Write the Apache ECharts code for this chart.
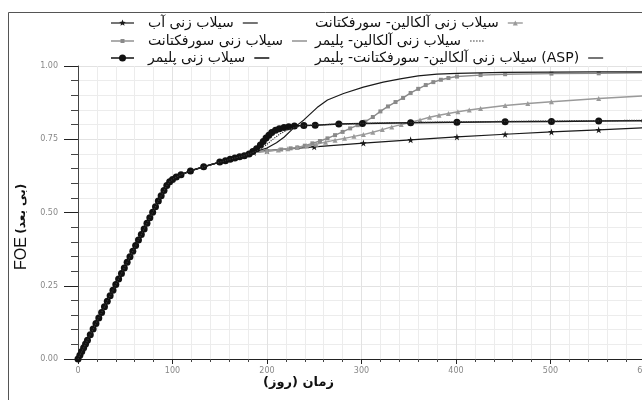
<!DOCTYPE html>
<html>
<head>
<meta charset="utf-8">
<script src="https://cdn.jsdelivr.net/npm/echarts@6/dist/echarts.min.js"></script>
<style>
  html, body { margin: 0; padding: 0; background: #fff; }
  #chart { width: 642px; height: 400px; }
</style>
</head>
<body>
<div id="chart"></div>
<script>
// Series names (legend)
const seriesNames = [
  'سیلاب زنی آب',
  'سیلاب زنی سورفکتانت',
  'سیلاب زنی پلیمر',
  'سیلاب زنی آلکالین- سورفکتانت',
  'سیلاب زنی آلکالین- پلیمر',
  'سیلاب زنی آلکالین- سورفکتانت- پلیمر (ASP)'
];

// Shared early-time recovery (days, FOE) common to every scenario
const baseDays = [0, 2, 4, 6, 8, 10, 13, 16, 19, 22, 25, 28, 31, 34, 37, 40, 43, 46, 49, 52, 55, 58, 61, 64, 67, 70, 73, 76, 79, 82, 85, 88, 91, 94, 97,
  100, 104, 109, 119, 133, 150, 156, 161, 166, 171, 176, 181];
const baseFoe = [0, 0.013, 0.026, 0.038, 0.051, 0.064, 0.083, 0.102, 0.121, 0.140, 0.159, 0.178, 0.197, 0.216, 0.235, 0.254, 0.273, 0.292, 0.311, 0.330, 0.349, 0.368, 0.387, 0.406, 0.425, 0.444, 0.463, 0.482, 0.501, 0.520, 0.539, 0.557, 0.575, 0.592, 0.605,
  0.613, 0.621, 0.629, 0.642, 0.656, 0.672, 0.677, 0.682, 0.686, 0.690, 0.694, 0.700];

// Water flooding
const waterDays = [186, 200, 250, 302, 352, 401, 452, 501, 551, 600];
const waterFoe = [0.705, 0.711, 0.724, 0.737, 0.748, 0.758, 0.767, 0.775, 0.782, 0.789];

// Surfactant flooding
const surfDays = [186, 200, 215, 225, 232, 240, 248, 256, 264, 272, 280, 288, 296, 304, 312, 320, 328, 336, 344, 352, 360, 368, 376, 384, 392, 401, 426, 452, 501, 551, 600];
const surfFoe = [0.705, 0.710, 0.715, 0.719, 0.722, 0.728, 0.736, 0.744, 0.753, 0.764, 0.775, 0.787, 0.798, 0.810, 0.826, 0.845, 0.862, 0.877, 0.891, 0.908, 0.922, 0.935, 0.945, 0.953, 0.959, 0.964, 0.969, 0.972, 0.974, 0.975, 0.977];

// Polymer flooding
const polyDays = [185, 189, 193, 196, 199, 202, 205, 209, 213, 218, 223, 229, 239, 251, 276, 301, 352, 401, 452, 501, 551, 600];
const polyFoe = [0.708, 0.718, 0.730, 0.742, 0.754, 0.764, 0.773, 0.781, 0.786, 0.790, 0.793, 0.795, 0.797, 0.798, 0.802, 0.804, 0.806, 0.808, 0.810, 0.811, 0.812, 0.813];

// Alkaline-surfactant flooding
const asDays = [186, 200, 212, 222, 232, 242, 252, 262, 272, 282, 292, 302, 312, 322, 332, 342, 352, 362, 372, 382, 392, 402, 414, 426, 452, 476, 501, 551, 600];
const asFoe = [0.705, 0.709, 0.713, 0.718, 0.722, 0.727, 0.733, 0.740, 0.747, 0.753, 0.760, 0.766, 0.774, 0.783, 0.792, 0.800, 0.808, 0.816, 0.825, 0.832, 0.838, 0.844, 0.850, 0.855, 0.865, 0.872, 0.878, 0.889, 0.898];

// Alkaline-polymer flooding
const apDays = [186, 193, 200, 207, 214, 221, 228, 235, 250, 300, 350, 400, 450, 500, 550, 600];
const apFoe = [0.706, 0.716, 0.733, 0.752, 0.769, 0.781, 0.789, 0.795, 0.799, 0.804, 0.807, 0.809, 0.811, 0.812, 0.813, 0.815];

// ASP flooding
const aspDays = [186, 200, 210, 218, 228, 239, 253, 264, 281, 302, 323, 341, 360, 380, 401, 450, 500, 550, 600];
const aspFoe = [0.706, 0.720, 0.738, 0.757, 0.788, 0.816, 0.858, 0.884, 0.906, 0.928, 0.945, 0.956, 0.966, 0.972, 0.975, 0.978, 0.979, 0.980, 0.980];

// Axis titles
const xTitle = 'زمان (روز)';
const yTitleLatin = 'FOE';
const yTitleFa = '(بی بعد)';

// Line / marker styles per scenario, in legend order
const styles = [
  { color: '#1a1a1a', width: 1.2, dash: 'solid', marker: 'star', size: 7 },
  { color: '#8a8a8a', width: 1.4, dash: 'solid', marker: 'rect', size: 4 },
  { color: '#111111', width: 1.5, dash: 'solid', marker: 'circle', size: 7 },
  { color: '#9a9a9a', width: 1.4, dash: 'solid', marker: 'triangle', size: 5 },
  { color: '#333333', width: 1.2, dash: 'dotted', marker: 'none', size: 0 },
  { color: '#1a1a1a', width: 1.2, dash: 'solid', marker: 'none', size: 0 }
];

const starPath = 'path://M50,0 L61,35 L98,35 L68,57 L79,91 L50,70 L21,91 L32,57 L2,35 L39,35 Z';
const symbolOf = m => (m === 'star' ? starPath : m);

// Early points carry no marker except on the polymer curve, which shows every step.
function buildData(days, foe, baseMarkers) {
  const out = [];
  baseDays.forEach((d, i) => {
    out.push(baseMarkers ? [d, baseFoe[i]] : { value: [d, baseFoe[i]], symbol: 'none' });
  });
  days.forEach((d, i) => out.push([d, foe[i]]));
  return out;
}

const faFont = '"DejaVu Sans", "Noto Sans", sans-serif';
const legendFont = '14px ' + faFont;

// Measure label widths so each trailing key sits right after its text
const measureCtx = document.createElement('canvas').getContext('2d');
measureCtx.font = legendFont;
const textWidth = t => measureCtx.measureText(t).width;

function markerShape(st, cx, cy) {
  const s = st.size;
  const style = { fill: st.color };
  if (st.marker === 'circle') return { type: 'circle', shape: { cx, cy, r: s / 2 }, style };
  if (st.marker === 'rect') return { type: 'rect', shape: { x: cx - s / 2, y: cy - s / 2, width: s, height: s }, style };
  if (st.marker === 'triangle') return { type: 'polygon', shape: { points: [[cx, cy - s / 2], [cx + s / 2, cy + s / 2], [cx - s / 2, cy + s / 2]] }, style };
  if (st.marker === 'star') {
    const pts = [];
    for (let k = 0; k < 10; k++) {
      const r = k % 2 === 0 ? s / 2 : s / 4.6;
      const a = -Math.PI / 2 + k * Math.PI / 5;
      pts.push([cx + r * Math.cos(a), cy + r * Math.sin(a)]);
    }
    return { type: 'polygon', shape: { points: pts }, style };
  }
  return null;
}

function legendKey(st, x0, x1, y, withMarker) {
  const out = [{
    type: 'line', silent: true,
    shape: { x1: x0, y1: y, x2: x1, y2: y },
    style: { stroke: st.color, lineWidth: st.width, lineDash: st.dash === 'dotted' ? [1.5, 1.5] : null }
  }];
  if (withMarker && st.marker !== 'none') {
    const m = markerShape(st, (x0 + x1) / 2, y);
    if (m) out.push(m);
  }
  return out;
}

// Legend: two columns of three rows
const legendRowY = [23, 41, 58];
const legendCols = [
  { textX: 148, leftKey: [111, 134], items: [0, 1, 2] },
  { textX: 315, leftKey: null, items: [3, 4, 5] }
];
const legendGraphics = [];
legendCols.forEach(col => {
  col.items.forEach((si, r) => {
    const y = legendRowY[r];
    const st = styles[si];
    if (col.leftKey) legendGraphics.push(...legendKey(st, col.leftKey[0], col.leftKey[1], y, true));
    legendGraphics.push({
      type: 'text', silent: true, x: col.textX, y: y,
      style: { text: seriesNames[si], font: legendFont, fill: '#111', textVerticalAlign: 'middle', textAlign: 'left' }
    });
    const tEnd = col.textX + textWidth(seriesNames[si]) + 9;
    legendGraphics.push(...legendKey(st, tEnd, tEnd + 15, y, !col.leftKey));
  });
});

const chart = echarts.init(document.getElementById('chart'), null, { renderer: 'canvas' });

chart.setOption({
  animation: false,
  backgroundColor: '#fff',
  textStyle: { fontFamily: faFont },
  grid: { left: 78, right: -3, top: 66, bottom: 41, containLabel: false, outerBoundsMode: 'none' },
  xAxis: {
    type: 'value', min: 0, max: 600, interval: 100,
    axisLine: { lineStyle: { color: '#222', width: 1 } },
    axisTick: { show: true, length: 5, lineStyle: { color: '#222' } },
    minorTick: { show: true, splitNumber: 5, length: 3, lineStyle: { color: '#444' } },
    splitLine: { show: true, lineStyle: { color: '#e2e2e2' } },
    minorSplitLine: { show: true, lineStyle: { color: '#ececec' } },
    axisLabel: { fontSize: 8, color: '#888', margin: 8, fontFamily: '"DejaVu Sans", sans-serif' }
  },
  yAxis: {
    type: 'value', min: 0, max: 1, interval: 0.25,
    axisLine: { show: true, lineStyle: { color: '#444', width: 1 } },
    axisTick: { show: true, length: 14, lineStyle: { color: '#222' } },
    minorTick: { show: true, splitNumber: 5, length: 7, lineStyle: { color: '#444' } },
    splitLine: { show: true, lineStyle: { color: '#e2e2e2' } },
    minorSplitLine: { show: true, lineStyle: { color: '#ececec' } },
    axisLabel: { fontSize: 8, color: '#888', margin: 20, fontFamily: '"DejaVu Sans", sans-serif',
      formatter: v => v.toFixed(2) }
  },
  graphic: [
    {
      type: 'rect', silent: true, z: -1,
      shape: { x: 8.5, y: 12.5, width: 660, height: 420 },
      style: { fill: 'none', stroke: '#555', lineWidth: 1 }
    },
    {
      type: 'text', left: 263, top: 376,
      style: { text: xTitle, font: 'bold 13px "DejaVu Sans", sans-serif', fill: '#111' }
    },
    {
      type: 'text', x: 14, y: 270, rotation: Math.PI / 2,
      style: {
        text: '{a|' + yTitleLatin + '} {b|' + yTitleFa + '}',
        rich: {
          a: { font: '16px "Liberation Sans", Arial, sans-serif', fill: '#111' },
          b: { font: 'bold 12px "DejaVu Sans", sans-serif', fill: '#111' }
        }
      }
    }
  ].concat(legendGraphics),
  series: [
    [waterDays, waterFoe, false, 3],
    [surfDays, surfFoe, false, 4],
    [polyDays, polyFoe, true, 8],
    [asDays, asFoe, false, 4],
    [apDays, apFoe, false, 9],
    [aspDays, aspFoe, false, 5]
  ].map(([days, foe, baseMarkers, z], i) => {
    const st = styles[i];
    return {
      name: seriesNames[i], type: 'line', z: z,
      data: buildData(days, foe, baseMarkers),
      symbol: symbolOf(st.marker), symbolSize: st.size,
      itemStyle: { color: st.color },
      lineStyle: { color: st.color, width: st.width, type: st.dash }
    };
  })
});
</script>
</body>
</html>
